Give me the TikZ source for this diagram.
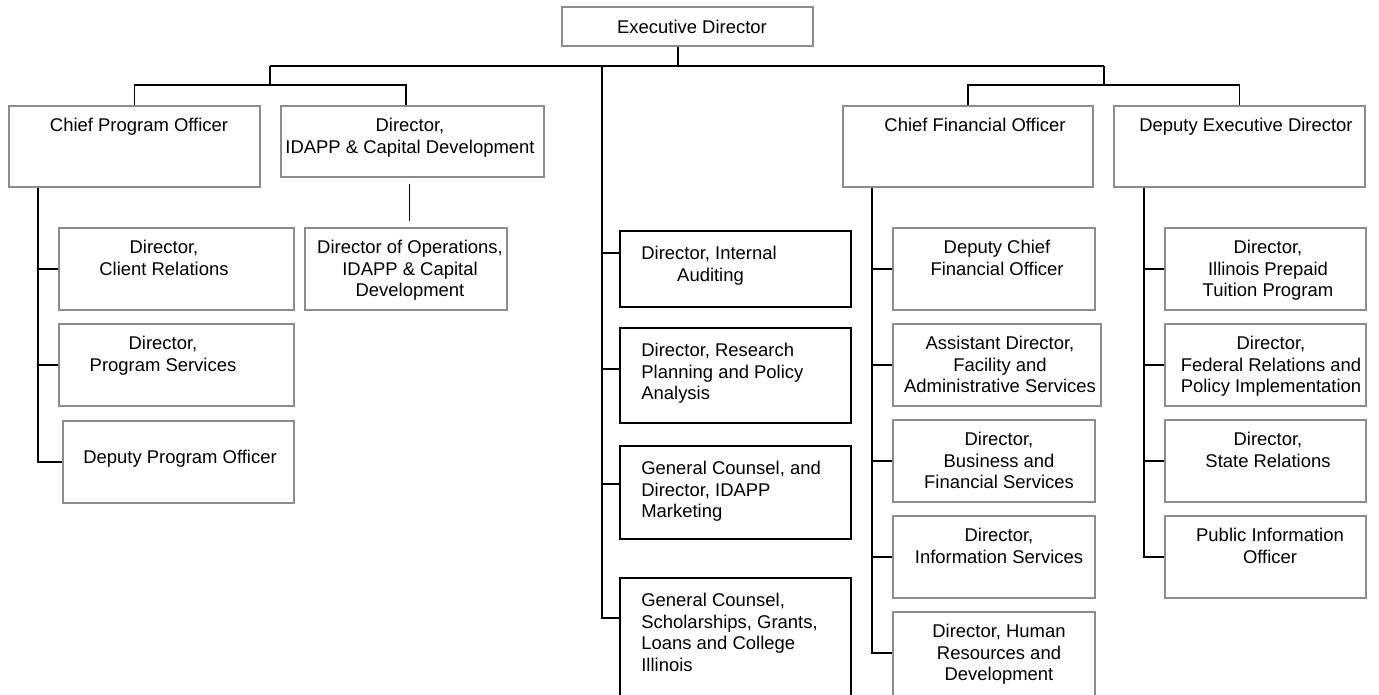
\documentclass[tikz,border=0pt]{standalone}
\usepackage{fontspec}
\setmainfont{Liberation Sans}
\usetikzlibrary{fit,calc}
\definecolor{rahmen}{RGB}{140,140,140}
\newcommand{\orgfont}{\fontsize{10.5}{12.2}\selectfont}

\begin{document}
\begin{tikzpicture}[x=0.02cm, y=-0.02cm,
    box/.style={draw=rahmen, line width=0.8pt, inner sep=0pt},
    keybox/.style={draw=black, line width=1.1pt, inner sep=0pt},
    txt/.style={anchor=north, inner sep=0pt, align=center, font=\orgfont},
    ltxt/.style={anchor=north west, inner sep=0pt, align=left, font=\orgfont},
    link/.style={draw=black, line width=1.1pt}]

    \useasboundingbox (0,0) rectangle (1379,694);
    \clip (0,0) rectangle (1379,694);

    % top row
    \node[box, fit={(562,7) (813,46)}] (exec) {};
    \node[txt] (exec-t) at (692,18.4) {\strut Executive Director};

    \node[box, fit={(9,106) (260,187)}] (cpo) {};
    \node[txt] (cpo-t) at (139,116.4) {\strut Chief Program Officer};
    \node[box, fit={(281,106) (544,177)}] (idapp) {};
    \node[txt] (idapp-t) at (410,116.4) {\strut Director,\\IDAPP \& Capital Development};
    \node[box, fit={(843,106) (1093,187)}] (cfo) {};
    \node[txt] (cfo-t) at (975,116.4) {\strut Chief Financial Officer};
    \node[box, fit={(1114,106) (1365,187)}] (ded) {};
    \node[txt] (ded-t) at (1246,116.4) {\strut Deputy Executive Director};

    % program side
    \node[box, fit={(59,228) (294,310)}] (cr) {};
    \node[txt] (cr-t) at (164,238.4) {\strut Director,\\Client Relations};
    \node[box, fit={(59,324) (294,406)}] (ps) {};
    \node[txt] (ps-t) at (163,334.4) {\strut Director,\\Program Services};
    \node[box, fit={(63,421) (294,503)}] (dpo) {};
    \node[txt] (dpo-t) at (180,448.4) {\strut Deputy Program Officer};
    \node[box, fit={(305,228) (507,310)}] (dops) {};
    \node[txt] (dops-t) at (410,238.4) {\strut Director of Operations,\\IDAPP \& Capital\\Development};

    % staff offices
    \node[keybox, fit={(620,231) (851,307)}] (aud) {};
    \node[ltxt] (aud-t) at (641,244.4) {\strut Director, Internal\\\hspace*{20.4pt}Auditing};
    \node[keybox, fit={(620,328) (851,423)}] (rpa) {};
    \node[ltxt] (rpa-t) at (641,341.4) {\strut Director, Research\\Planning and Policy\\Analysis};
    \node[keybox, fit={(620,446) (851,539)}] (mkt) {};
    \node[ltxt] (mkt-t) at (641,459.4) {\strut General Counsel, and\\Director, IDAPP\\Marketing};
    \node[keybox, fit={(620,578) (851,710)}] (gcs) {};
    \node[ltxt] (gcs-t) at (641,591.4) {\strut General Counsel,\\Scholarships, Grants,\\Loans and College\\Illinois};

    % finance side
    \node[box, fit={(893,228) (1095,310)}] (dcfo) {};
    \node[txt] (dcfo-t) at (997,238.4) {\strut Deputy Chief\\Financial Officer};
    \node[box, fit={(893,324) (1101,406)}] (fac) {};
    \node[txt] (fac-t) at (1000,334.4) {\strut Assistant Director,\\Facility and\\Administrative Services};
    \node[box, fit={(893,420) (1095,502)}] (bfs) {};
    \node[txt] (bfs-t) at (999,430.4) {\strut Director,\\Business and\\Financial Services};
    \node[box, fit={(893,516) (1095,598)}] (info) {};
    \node[txt] (info-t) at (999,526.4) {\strut Director,\\Information Services};
    \node[box, fit={(893,612) (1095,710)}] (hr) {};
    \node[txt] (hr-t) at (999,622.4) {\strut Director, Human\\Resources and\\Development};

    % deputy side
    \node[box, fit={(1165,228) (1366,310)}] (iptp) {};
    \node[txt] (iptp-t) at (1268,238.4) {\strut Director,\\Illinois Prepaid\\Tuition Program};
    \node[box, fit={(1165,324) (1366,406)}] (fed) {};
    \node[txt] (fed-t) at (1271,334.4) {\strut Director,\\Federal Relations and\\Policy Implementation};
    \node[box, fit={(1165,420) (1366,502)}] (state) {};
    \node[txt] (state-t) at (1268,430.4) {\strut Director,\\State Relations};
    \node[box, fit={(1165,516) (1366,598)}] (pio) {};
    \node[txt] (pio-t) at (1270,526.4) {\strut Public Information\\Officer};

    % lines
    \coordinate (busL) at (270,66);
    \coordinate (busR) at (1104,66);
    \coordinate (estem) at (678,66);
    \coordinate (trunk) at (602,66);
    \draw[link] (busL) -- (busR);
    \draw[link] (exec.south -| estem) -- (estem);

    \draw[link] (busL) -- ++(0,19) coordinate (subL);
    \draw[link] (cpo.north) |- (subL) -| ([xshift=-3.7pt]idapp.north);
    \draw[link] (busR) -- ++(0,19) coordinate (subR);
    \draw[link] (cfo.north) |- (subR) -| (ded.north);

    \coordinate (cpo-s) at ([xshift=17pt]cpo.south west);
    \draw[link] (cpo-s) |- (dpo.west);
    \draw[link] (cr.west) -- (cr.west -| cpo-s);
    \draw[link] (ps.west) -- (ps.west -| cpo-s);

    \draw[link, shorten <=3.4pt, shorten >=3.4pt] ([xshift=-1.7pt]idapp.south) -- ([xshift=-1.7pt]idapp.south |- dops.north);

    \draw[link] (trunk) |- ([yshift=14.7pt]gcs.west);
    \draw[link] ([yshift=9.1pt]aud.west) -- ++(-18,0);
    \draw[link] ([yshift=3.7pt]rpa.west) -- ++(-18,0);
    \draw[link] ([yshift=4.8pt]mkt.west) -- ++(-18,0);

    \coordinate (cfo-s) at ([xshift=17pt]cfo.south west);
    \draw[link] (cfo-s) |- ([yshift=4.5pt]hr.west);
    \draw[link] (dcfo.west) -- (dcfo.west -| cfo-s);
    \draw[link] (fac.west) -- (fac.west -| cfo-s);
    \draw[link] (bfs.west) -- (bfs.west -| cfo-s);
    \draw[link] (info.west) -- (info.west -| cfo-s);

    \coordinate (ded-s) at ([xshift=17.6pt]ded.south west);
    \draw[link] (ded-s) |- (pio.west);
    \draw[link] (iptp.west) -- (iptp.west -| ded-s);
    \draw[link] (fed.west) -- (fed.west -| ded-s);
    \draw[link] (state.west) -- (state.west -| ded-s);

\end{tikzpicture}
\end{document}
